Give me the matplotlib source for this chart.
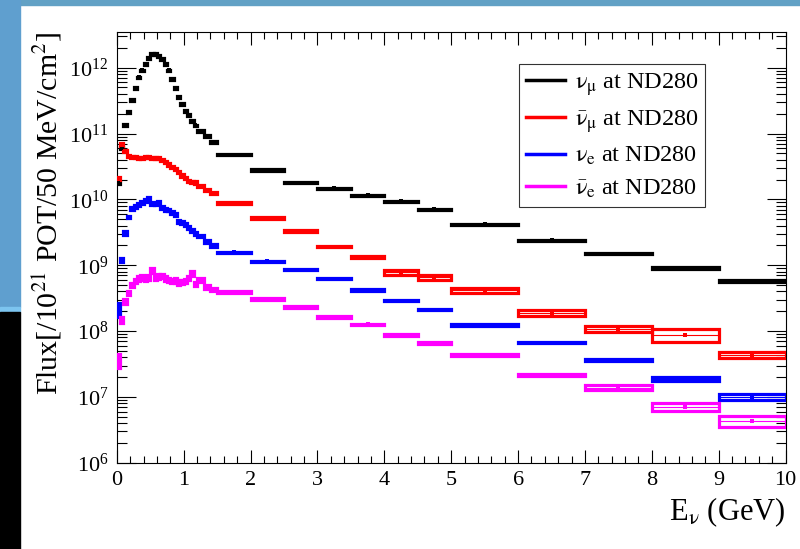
"""
Neutrino flux at ND280 per flavour, reproduced in ROOT-like style.
"""

import numpy as np
import matplotlib
matplotlib.use('Agg')
import matplotlib.pyplot as plt
from matplotlib.lines import Line2D
from matplotlib.patches import Rectangle
from matplotlib.ticker import LogLocator, MultipleLocator, NullFormatter

plt.rcParams['font.family'] = ['Liberation Serif', 'DejaVu Serif']
plt.rcParams['mathtext.fontset'] = 'stix'

# Energy binning (GeV)
bin_edges = [0.0, 0.05, 0.1, 0.15, 0.2, 0.25, 0.3, 0.35, 0.4, 0.45, 0.5,
             0.55, 0.6, 0.65, 0.7, 0.75, 0.8, 0.85, 0.9, 0.95, 1.0,
             1.05, 1.1, 1.15, 1.2, 1.3, 1.4, 1.5, 2.0, 2.5, 3.0, 3.5,
             4.0, 4.5, 5.0, 6.0, 7.0, 8.0, 9.0, 10.0]
y_ticks = [1e6, 1e7, 1e8, 1e9, 1e10, 1e11, 1e12]

# Flux values per bin
numu_flux = [1.8e10, 6.0e10, 1.35e11, 2.1e11, 3.2e11, 4.9e11, 7.1e11, 9.1e11,
             1.15e12, 1.4e12, 1.6e12, 1.6e12, 1.52e12, 1.37e12, 1.15e12,
             9.1e11, 6.8e11, 4.9e11, 3.6e11, 2.8e11, 2.2e11, 1.9e11, 1.55e11,
             1.33e11, 1.1e11, 9.1e10, 7.4e10,
             4.8e10, 2.8e10, 1.8e10, 1.47e10, 1.15e10, 9.4e9, 7.1e9,
             4.2e9, 2.4e9, 1.5e9, 9.1e8, 5.8e8]
numubar_flux = [2.1e10, 6.8e10, 5.5e10, 4.6e10, 4.4e10, 4.4e10, 4.3e10, 4.3e10,
                4.4e10, 4.4e10, 4.3e10, 4.3e10, 4.3e10, 4.0e10, 3.7e10,
                3.4e10, 3.1e10, 2.9e10, 2.6e10, 2.3e10, 2.1e10, 1.9e10, 1.85e10,
                1.8e10, 1.6e10, 1.4e10, 1.25e10,
                8.9e9, 5.2e9, 3.3e9, 1.92e9, 1.35e9, 7.8e8, 6.6e8,
                4.2e8, 1.87e8, 1.07e8, 8.7e7, 4.4e7]
nue_flux = [2.15e8, 1.2e9, 3.1e9, 5.4e9, 7.3e9, 7.8e9, 8.3e9, 9.0e9,
            9.6e9, 1.02e10, 8.7e9, 8.5e9, 8.9e9, 7.6e9, 7.0e9,
            6.9e9, 6.4e9, 5.9e9, 4.6e9, 4.5e9, 4.2e9, 3.7e9, 3.4e9,
            3.0e9, 2.8e9, 2.3e9, 2.0e9,
            1.58e9, 1.14e9, 8.5e8, 6.2e8, 4.2e8, 2.9e8, 2.1e8,
            1.24e8, 6.7e7, 3.6e7, 1.87e7, 1.0e7]
nuebar_flux = [3.6e7, 1.5e8, 2.8e8, 3.8e8, 5.0e8, 5.8e8, 6.3e8, 6.5e8,
               6.3e8, 6.6e8, 8.3e8, 6.6e8, 6.8e8, 6.9e8, 6.3e8,
               6.0e8, 5.8e8, 5.9e8, 5.5e8, 5.6e8, 5.8e8, 6.4e8, 7.5e8,
               5.2e8, 6.0e8, 4.7e8, 4.3e8,
               3.9e8, 3.1e8, 2.3e8, 1.65e8, 1.26e8, 8.7e7, 6.6e7,
               4.3e7, 2.15e7, 1.38e7, 7.1e6, 4.3e6]

# Relative uncertainties per bin
numu_err = [0.04, 0.03, 0.03, 0.03, 0.03, 0.03, 0.03, 0.03, 0.03, 0.03,
            0.03, 0.03, 0.03, 0.03, 0.03, 0.03, 0.03, 0.03, 0.03, 0.03,
            0.03, 0.03, 0.03, 0.03, 0.03, 0.03, 0.03,
            0.02, 0.02, 0.02, 0.02, 0.02, 0.02, 0.02, 0.02, 0.02, 0.02,
            0.02, 0.03]
numubar_err = [0.05, 0.06, 0.04, 0.04, 0.04, 0.04, 0.04, 0.04, 0.04, 0.04,
               0.04, 0.04, 0.04, 0.04, 0.04, 0.04, 0.04, 0.04, 0.04, 0.04,
               0.04, 0.04, 0.04, 0.04, 0.04, 0.04, 0.04,
               0.03, 0.03, 0.03, 0.03, 0.03, 0.09, 0.09, 0.09, 0.10, 0.10,
               0.22, 0.10]
nue_err = [0.25, 0.08, 0.06, 0.05, 0.05, 0.05, 0.05, 0.05, 0.05, 0.05,
           0.05, 0.05, 0.05, 0.05, 0.05, 0.05, 0.05, 0.05, 0.05, 0.05,
           0.05, 0.05, 0.05, 0.05, 0.04, 0.04, 0.04,
           0.02, 0.02, 0.02, 0.02, 0.02, 0.02, 0.02, 0.02, 0.02, 0.04,
           0.08, 0.09]
nuebar_err = [0.23, 0.10, 0.09, 0.08, 0.08, 0.08, 0.08, 0.08, 0.08, 0.08,
              0.08, 0.08, 0.08, 0.08, 0.08, 0.08, 0.08, 0.08, 0.08, 0.08,
              0.08, 0.08, 0.08, 0.08, 0.06, 0.06, 0.06,
              0.03, 0.03, 0.03, 0.03, 0.03, 0.03, 0.03, 0.03, 0.04, 0.09,
              0.14, 0.20]

labels = [r'$\mathrm{\nu_{\mu}}$ at ND280', r'$\mathrm{\bar{\nu}_{\mu}}$ at ND280',
          r'$\mathrm{\nu_{e}}$ at ND280', r'$\mathrm{\bar{\nu}_{e}}$ at ND280']
colors = ['black', '#ff0000', '#0000ff', '#ff00ff']


def draw_flux(ax, values, rel_err, color):
    """Draw each bin as an error box with a central marker."""
    edges = np.array(bin_edges)
    lo, hi = edges[:-1], edges[1:]
    centers = 0.5 * (lo + hi)
    values = np.array(values)
    err = values * np.array(rel_err)
    ax.bar(centers, 2 * err, bottom=values - err, width=hi - lo,
           fill=False, edgecolor=color, linewidth=2.3, zorder=3)
    ax.hlines(values, lo, hi, color=color, lw=0.8, zorder=3)
    ax.plot(centers, values, 's', color=color, ms=2.2, mew=0, zorder=4)


def main():
    fig = plt.figure(figsize=(8, 5.49), dpi=100)

    # slide background strips
    fig.patches.append(Rectangle((0, 1 - 5 / 549), 1, 5 / 549, transform=fig.transFigure,
                                 color='#62a1c5', zorder=0))
    fig.patches.append(Rectangle((0, 1 - 307 / 549), 20 / 800, 307 / 549, transform=fig.transFigure,
                                 color='#5f9fcf', zorder=0))
    fig.patches.append(Rectangle((0, 1 - 312 / 549), 20 / 800, 5 / 549, transform=fig.transFigure,
                                 color='#7cc4ef', zorder=0))
    fig.patches.append(Rectangle((0, 0), 20 / 800, 1 - 312 / 549, transform=fig.transFigure,
                                 color='black', zorder=0))

    ax = fig.add_axes([0.146, 0.157, 0.836, 0.785])

    for vals, errs, c in zip([numu_flux, numubar_flux, nue_flux, nuebar_flux],
                             [numu_err, numubar_err, nue_err, nuebar_err], colors):
        draw_flux(ax, vals, errs, c)

    ax.set_yscale('log')
    ax.set_xlim(0, 10)
    ax.set_ylim(1e6, 3.5e12)

    ax.xaxis.set_major_locator(MultipleLocator(1))
    ax.xaxis.set_minor_locator(MultipleLocator(0.2))
    ax.set_yticks(y_ticks)
    ax.yaxis.set_minor_locator(LogLocator(base=10, subs=np.arange(2, 10), numticks=20))
    ax.yaxis.set_minor_formatter(NullFormatter())

    ax.tick_params(axis='both', which='both', direction='in', top=True, right=True,
                   width=0.8, labelsize=16)
    ax.tick_params(axis='x', which='major', length=9.5, pad=6)
    ax.tick_params(axis='x', which='minor', length=5)
    ax.tick_params(axis='y', which='major', length=14, pad=6)
    ax.tick_params(axis='y', which='minor', length=7)
    for sp in ax.spines.values():
        sp.set_linewidth(0.8)

    ax.set_xlabel(r'E$_{\mathrm{\nu}}$ (GeV)', fontsize=22, loc='right', labelpad=4)
    ax.set_ylabel(r'Flux[/10$^{21}$ POT/50 MeV/cm$^{2}$]', fontsize=21.5, loc='top', labelpad=4)

    handles = [Line2D([], [], color=c, lw=2.5) for c in colors]
    leg = ax.legend(handles, labels, loc='upper left', bbox_to_anchor=(0.601, 0.926),
                    fontsize=17.5, frameon=True, fancybox=False, edgecolor='black',
                    handlelength=1.6, handletextpad=0.4, labelspacing=0.42,
                    borderpad=0.3, borderaxespad=0)
    leg.get_frame().set_linewidth(0.8)

    fig.savefig('out.png', dpi=100)
    plt.close(fig)


if __name__ == "__main__":
    main()
